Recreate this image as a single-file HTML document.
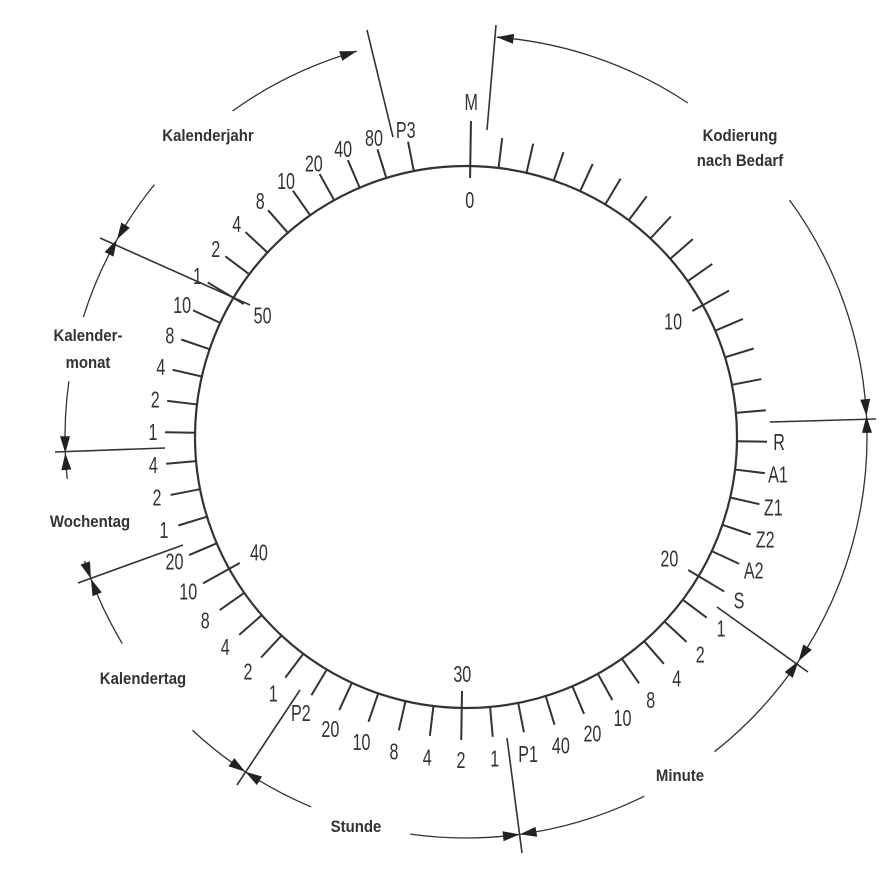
<!DOCTYPE html>
<html><head><meta charset="utf-8"><style>
html,body{margin:0;padding:0;background:#fff}
svg{display:block}
.t{font-family:"Liberation Sans",sans-serif;font-size:23px;fill:#333}
.b{font-family:"Liberation Sans",sans-serif;font-size:17px;font-weight:bold;fill:#333}
</style></head><body>
<svg id="s" width="895" height="880" viewBox="0 0 895 880" xmlns="http://www.w3.org/2000/svg">
<circle cx="466" cy="437" r="271" fill="none" stroke="#333" stroke-width="2.2"/>
<g stroke="#333" stroke-width="1.6">
<line x1="367" y1="30" x2="393" y2="137"/>
<line x1="496" y1="25" x2="487" y2="130"/>
<line x1="770" y1="422" x2="876" y2="419"/>
<line x1="717" y1="607" x2="808" y2="672"/>
<line x1="507" y1="738" x2="522" y2="853"/>
<line x1="300" y1="690" x2="237" y2="785"/>
<line x1="78" y1="583" x2="183" y2="545"/>
<line x1="55" y1="452" x2="165" y2="448"/>
<line x1="100" y1="238" x2="250" y2="305"/>
</g>
<g id="g"></g>
<text class="b" x="208" y="141" text-anchor="middle" transform="translate(208,0) scale(0.88,1) translate(-208,0)">Kalenderjahr</text>
<text class="b" x="740" y="141" text-anchor="middle" transform="translate(740,0) scale(0.88,1) translate(-740,0)">Kodierung</text>
<text class="b" x="740" y="166" text-anchor="middle" transform="translate(740,0) scale(0.88,1) translate(-740,0)">nach Bedarf</text>
<text class="b" x="88" y="341" text-anchor="middle" transform="translate(88,0) scale(0.88,1) translate(-88,0)">Kalender-</text>
<text class="b" x="88" y="368" text-anchor="middle" transform="translate(88,0) scale(0.88,1) translate(-88,0)">monat</text>
<text class="b" x="90" y="527" text-anchor="middle" transform="translate(90,0) scale(0.88,1) translate(-90,0)">Wochentag</text>
<text class="b" x="143" y="684" text-anchor="middle" transform="translate(143,0) scale(0.88,1) translate(-143,0)">Kalendertag</text>
<text class="b" x="356" y="832" text-anchor="middle" transform="translate(356,0) scale(0.88,1) translate(-356,0)">Stunde</text>
<text class="b" x="680" y="781" text-anchor="middle" transform="translate(680,0) scale(0.88,1) translate(-680,0)">Minute</text>
</svg>
<script>
var g=document.getElementById('g'),NS='http://www.w3.org/2000/svg';
var cx=466,cy=437,R=271,off=0.9;
function P(a,r){var t=a*Math.PI/180;return [cx+r*Math.sin(t),cy-r*Math.cos(t)];}
function el(n,at,tx){var e=document.createElementNS(NS,n);for(var k in at)e.setAttribute(k,at[k]);if(tx!==undefined)e.textContent=tx;g.appendChild(e);return e;}
var lab={0:'M',15:'R',16:'A1',17:'Z1',18:'Z2',19:'A2',20:'S'};
var seq=[[21,['1','2','4','8','10','20','40','P1']],[29,['1','2','4','8','10','20','P2']],[36,['1','2','4','8','10','20','1','2','4','1','2','4','8','10','1','2','4','8','10','20','40','80','P3']]];
seq.forEach(function(s){s[1].forEach(function(v,i){lab[s[0]+i]=v;});});
function tx(x,y,s){el('text',{x:x,y:y,'text-anchor':'middle','class':'t',transform:'translate('+x+',0) scale(0.7,1) translate('+(-x)+',0)'},s);}
for(var i=0;i<60;i++){
 if(i==59)continue;
 var a=i*6+off,r0=R,r1=R+30;
 if(i==0){r0=R-12;r1=R+45;}else if(i==30){r0=R-17;r1=R+32;}else if(i%10==0){r0=R-12;r1=R+30;}
 var p=P(a,r0),q=P(a,r1);
 el('line',{x1:p[0],y1:p[1],x2:q[0],y2:q[1],stroke:'#333','stroke-width':2});
 if(lab[i]!==undefined){
  var c=Math.cos(a*Math.PI/180);
  var rl=R+42+(c<0?-c*10:0);
  if(i==0)rl=R+64;
  var m=P(a,rl);
  tx(m[0],m[1]+8,lab[i]);
 }
 if(i%10==0){var m2=P(a,237);tx(m2[0],m2[1]+8,i==0?'0':String(i));}
}
var AR=401;
function arc(a1,a2){var p=P(a1,AR),q=P(a2,AR);var large=(a2-a1)>180?1:0;
 el('path',{d:'M'+p[0]+' '+p[1]+' A'+AR+' '+AR+' 0 '+large+' 1 '+q[0]+' '+q[1],fill:'none',stroke:'#333','stroke-width':1.3});}
function arrow(a,dir){var tip=P(a,AR);var b=a+dir*2.4;var b1=P(b,AR+5),b2=P(b,AR-5);
 el('polygon',{points:tip[0]+','+tip[1]+' '+b1[0]+','+b1[1]+' '+b2[0]+','+b2[1],fill:'#222'});}
var seps=[4.4,87.0,124,172.3,213.4,249.3,267.7,299.5,344.2];
var gaps=[[33.6,53.8],[null,null],[141.7,153.6],[188,202.7],[223,239],[252,264],[278,287.4],[309,324.4],[null,null]];
for(var k=0;k<8;k++){
 var s1=seps[k],s2=seps[k+1];
 var gp=gaps[k];
 if(gp[0]!==null){arc(s1,gp[0]);arc(gp[1],s2);}else arc(s1,s2);
 arrow(s1,1);arrow(s2,-1);
}
</script>
</body></html>
